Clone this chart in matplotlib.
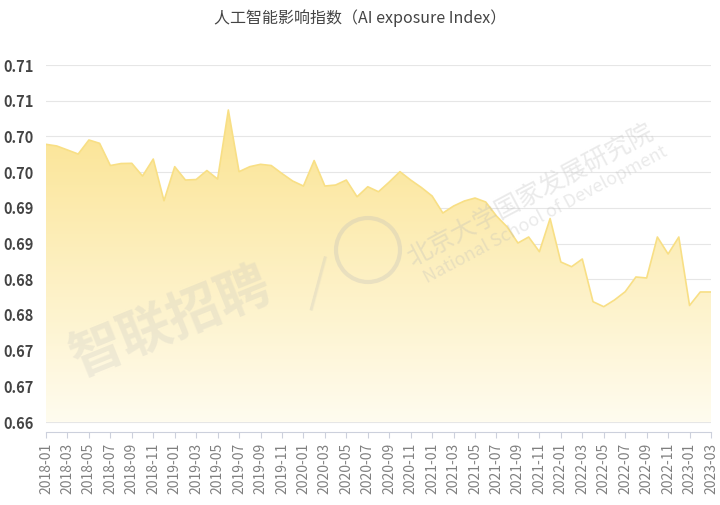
import numpy as np
import matplotlib.pyplot as plt
import pandas as pd
from matplotlib.patches import Polygon, Ellipse

plt.rcParams['font.family'] = ['Noto Sans CJK SC', 'DejaVu Sans']

# monthly index values 2018-01 .. 2023-03
months = pd.date_range('2018-01-01', '2023-03-01', freq='MS').strftime('%Y-%m').tolist()
values = [0.69889, 0.69866, 0.69810, 0.69753, 0.69950, 0.69903, 0.69592, 0.69620, 0.69623, 0.69445,
          0.69683, 0.69099, 0.69576, 0.69389, 0.69396, 0.69522, 0.69403, 0.70370, 0.69506, 0.69576,
          0.69609, 0.69592, 0.69480, 0.69375, 0.69305, 0.69662, 0.69305, 0.69319, 0.69389, 0.69155,
          0.69295, 0.69225, 0.69361, 0.69506, 0.69389, 0.69284, 0.69165, 0.68927, 0.69025, 0.69095,
          0.69137, 0.69081, 0.68885, 0.68731, 0.68507, 0.68591, 0.68385, 0.68850, 0.68241, 0.68175,
          0.68283, 0.67685, 0.67615, 0.67709, 0.67825, 0.68031, 0.68017, 0.68591, 0.68353, 0.68591,
          0.67632, 0.67821, 0.67821]
yticks = [0.66, 0.665, 0.67, 0.675, 0.68, 0.685, 0.69, 0.695, 0.70, 0.705, 0.71]
ytick_labels = ['0.66', '0.67', '0.67', '0.68', '0.68', '0.69', '0.69', '0.70', '0.70', '0.71', '0.71']
title = '人工智能影响指数（AI exposure Index）'

x = np.arange(len(months))
y = np.array(values)
base = 0.66

fig = plt.figure(figsize=(7.2, 5.05), dpi=100)
ax = fig.add_axes([46/720, 73/505, (711-46)/720, (432-65)/505])
ax.set_xlim(0, len(x)-1)
ax.set_ylim(0.6586, 0.71)

# gradient fill under the line
grad = np.linspace(0, 1, 256).reshape(-1, 1)
cmap = plt.matplotlib.colors.LinearSegmentedColormap.from_list('g', ['#fffcef', '#fbe390'])
img = ax.imshow(grad, cmap=cmap, aspect='auto', origin='lower',
                extent=[0, len(x)-1, base, y.max()], zorder=1)
poly = Polygon(np.column_stack([np.r_[x[0], x, x[-1]], np.r_[base, y, base]]),
               closed=True, transform=ax.transData, facecolor='none', edgecolor='none')
ax.add_patch(poly)
img.set_clip_path(poly)
ax.plot(x, y, color='#f8df85', lw=1.2, zorder=2)

ax.set_yticks(yticks)
ax.set_yticklabels(ytick_labels, fontsize=10.5, color='#444444', fontweight='bold')
ax.set_xticks(x[::2])
ax.set_xticklabels(months[::2], rotation=90, fontsize=10, color='#808080')
ax.grid(axis='y', color='#e6e6e6', lw=0.8, zorder=0)
ax.set_axisbelow(True)
for s in ['left', 'right', 'top']:
    ax.spines[s].set_visible(False)
ax.spines['bottom'].set_color('#ccd0dc')
ax.tick_params(axis='y', length=0, pad=9)
ax.tick_params(axis='x', length=4, color='#ccd0dc', pad=4)

fig.text(0.5, 0.965, title, ha='center', va='center', fontsize=11.5, color='#444444')

# watermarks
fig.text(170/720, 1-322/505, '智联招聘', fontsize=38, color='#bbbbbb', alpha=0.22,
         rotation=22, ha='center', va='center', fontweight='bold')
fig.text(318/720, 1-285/505, '|', fontsize=36, color='#bbbbbb', alpha=0.25, rotation=-15,
         ha='center', va='center')
fig.text(530/720, 1-195/505, '北京大学国家发展研究院', fontsize=18, color='#bbbbbb', alpha=0.3,
         rotation=28, ha='center', va='center')
fig.text(545/720, 1-215/505, 'National School of Development', fontsize=13, color='#bbbbbb',
         alpha=0.3, rotation=28, ha='center', va='center')
circ = Ellipse((368/720, 1-250/505), 64/720, 64/505, transform=fig.transFigure, fill=False,
               ec='#bbbbbb', alpha=0.3, lw=3)
fig.add_artist(circ)

fig.savefig('out.png', dpi=100)
